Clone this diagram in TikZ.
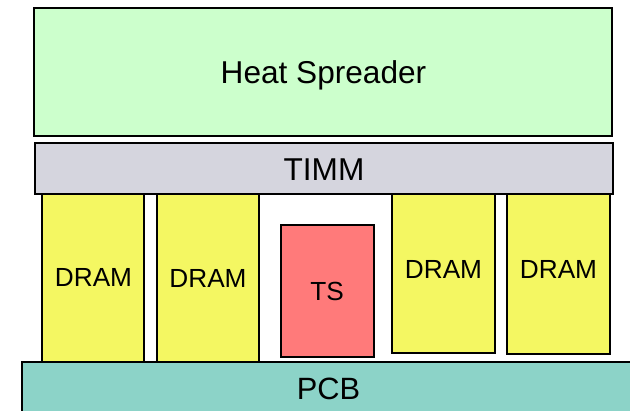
\documentclass[tikz,border=0pt]{standalone}
\usepackage{fontspec}
\setmainfont{Liberation Sans}
\definecolor{spreader}{RGB}{204,255,204}
\definecolor{timm}{RGB}{213,213,222}
\definecolor{dram}{RGB}{244,247,98}
\definecolor{sensor}{RGB}{255,122,122}
\definecolor{pcb}{RGB}{140,211,200}
\tikzset{
  layer/.style={draw=black, line width=1.5pt, inner sep=0pt},
  chip/.style={layer, fill=dram},
  lbl/.style={anchor=base, inner sep=0pt, text=black},
  big/.style={font=\fontsize{31.6}{31.6}\selectfont},
  small/.style={font=\fontsize{26.2}{26.2}\selectfont},
}
\begin{document}
\begin{tikzpicture}[x=1pt, y=-1pt]
\useasboundingbox[fill=white] (0,0) rectangle (630,411);
% package stack, top to bottom
\draw[layer, fill=spreader] (34,8) rectangle (612,136);
\node[lbl, big] (hs) at (323.5,83.3) {Heat Spreader};
\draw[layer, fill=timm] (35,143) rectangle (613,194);
\node[lbl, big] (tm) at (324,181) {TIMM};
% memory chips and thermal sensor
\draw[chip] (42,194) rectangle (144,362);
\node[lbl, small] (d1) at (93.5,286.8) {DRAM};
\draw[chip] (157,194) rectangle (259,363);
\node[lbl, small] (d2) at (208,288) {DRAM};
\draw[layer, fill=sensor] (281,225) rectangle (374,357);
\node[lbl, small] (ts) at (327,300.7) {TS};
\draw[chip] (392,194) rectangle (495,353);
\node[lbl, small] (d3) at (443.5,278.3) {DRAM};
\draw[chip] (507,194) rectangle (610,354);
\node[lbl, small] (d4) at (558.5,279) {DRAM};
% board
\draw[layer, fill=pcb] (22,362) rectangle (640,420);
\node[lbl, font=\fontsize{30.8}{30.8}\selectfont] (pcb) at (328.5,400) {PCB};
\end{tikzpicture}
\end{document}
